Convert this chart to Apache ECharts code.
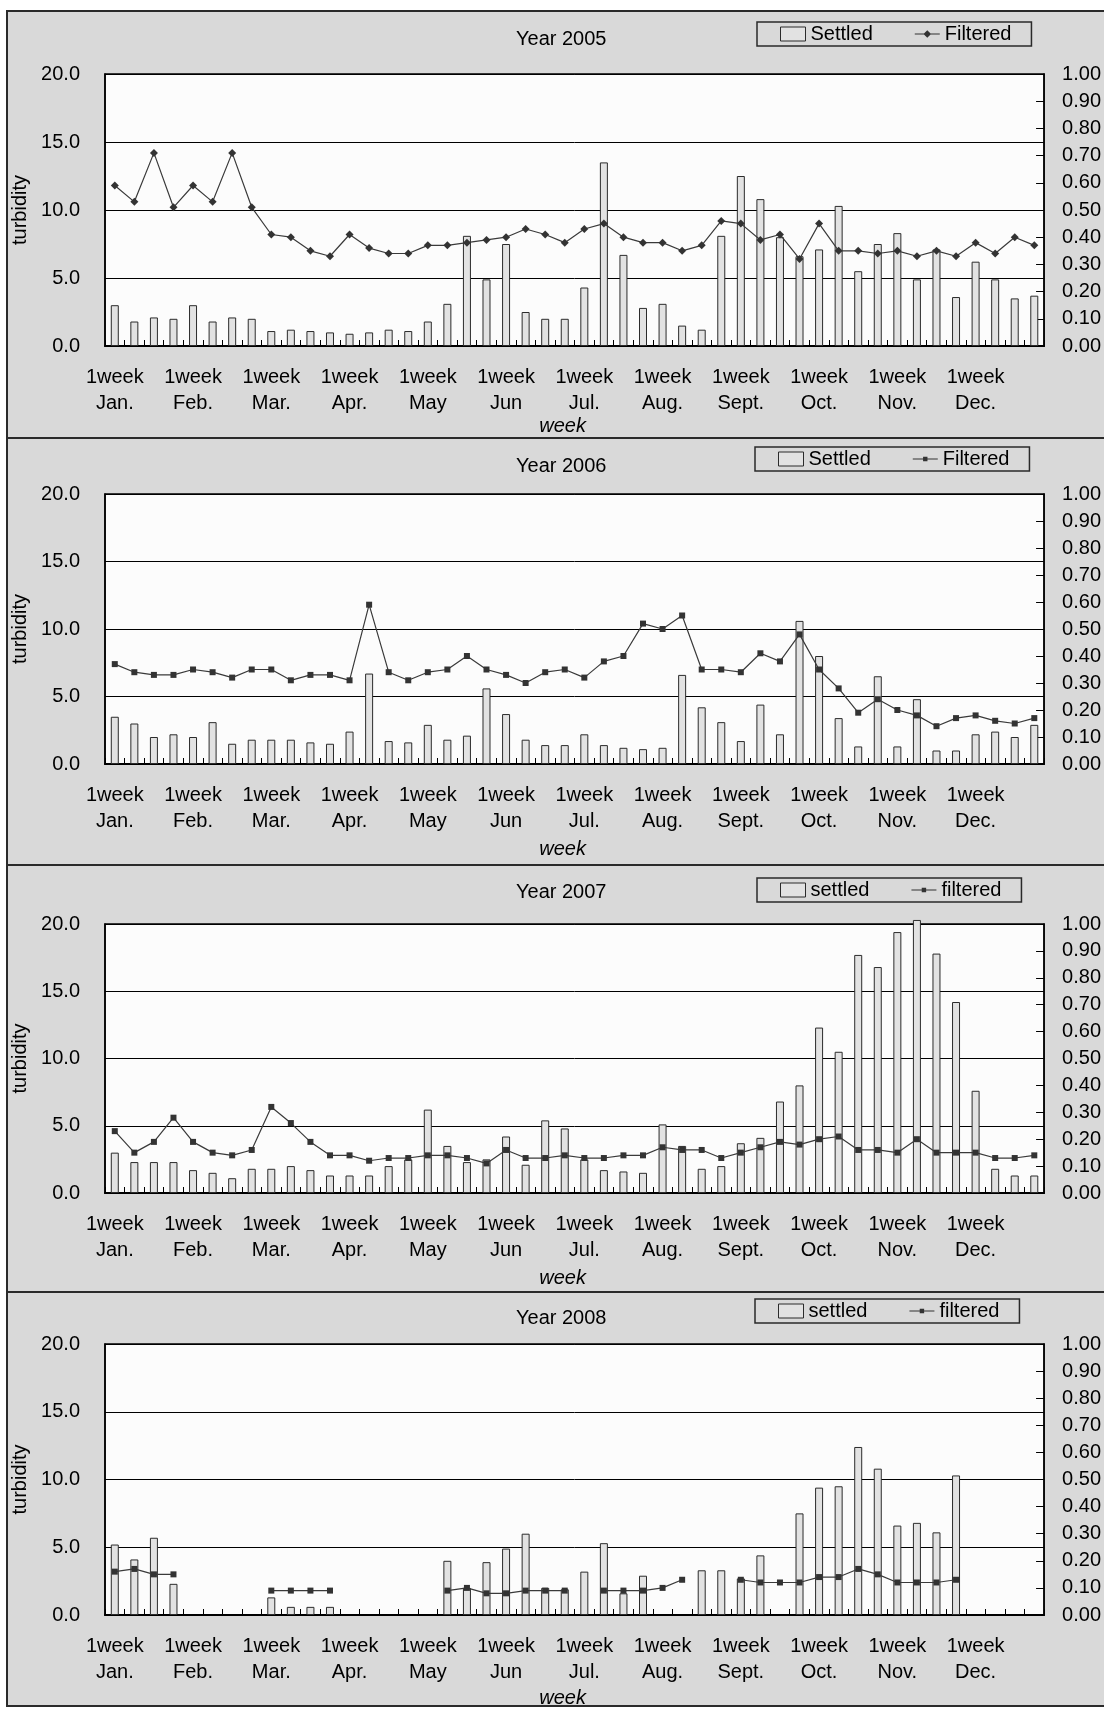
<!DOCTYPE html>
<html><head><meta charset="utf-8">
<script src="https://cdn.jsdelivr.net/npm/echarts@6/dist/echarts.min.js"></script>
<style>html,body{margin:0;padding:0;background:#fff}#c{width:1104px;height:1711px}</style>
</head><body><div id="c"></div>
<script>
// ---- tick labels / categories ----
const months = ['Jan.', 'Feb.', 'Mar.', 'Apr.', 'May', 'Jun', 'Jul.', 'Aug.', 'Sept.', 'Oct.', 'Nov.', 'Dec.'];
const weekNames = ['1week', '2week', '3week', '4week'];
const years = ['2005', '2006', '2007', '2008'];
const settledNames = ['Settled', 'Settled', 'settled', 'settled'];
const filteredNames = ['Filtered', 'Filtered', 'filtered', 'filtered'];
const leftMax = 20, leftInterval = 5;
const rightMax = 1, rightInterval = 0.1;

// ---- data (weekly, 48 weeks per year) ----
const settled2005 = [3.0, 1.8, 2.1, 2.0, 3.0, 1.8, 2.1, 2.0, 1.1, 1.2, 1.1, 1.0, 0.9, 1.0, 1.2, 1.1, 1.8, 3.1, 8.1, 4.9, 7.5, 2.5, 2.0, 2.0, 4.3, 13.5, 6.7, 2.8, 3.1, 1.5, 1.2, 8.1, 12.5, 10.8, 8.0, 6.6, 7.1, 10.3, 5.5, 7.5, 8.3, 4.9, 7.1, 3.6, 6.2, 4.9, 3.5, 3.7];
const filtered2005 = [0.59, 0.53, 0.71, 0.51, 0.59, 0.53, 0.71, 0.51, 0.41, 0.40, 0.35, 0.33, 0.41, 0.36, 0.34, 0.34, 0.37, 0.37, 0.38, 0.39, 0.40, 0.43, 0.41, 0.38, 0.43, 0.45, 0.40, 0.38, 0.38, 0.35, 0.37, 0.46, 0.45, 0.39, 0.41, 0.32, 0.45, 0.35, 0.35, 0.34, 0.35, 0.33, 0.35, 0.33, 0.38, 0.34, 0.40, 0.37];

const settled2006 = [3.5, 3.0, 2.0, 2.2, 2.0, 3.1, 1.5, 1.8, 1.8, 1.8, 1.6, 1.5, 2.4, 6.7, 1.7, 1.6, 2.9, 1.8, 2.1, 5.6, 3.7, 1.8, 1.4, 1.4, 2.2, 1.4, 1.2, 1.1, 1.2, 6.6, 4.2, 3.1, 1.7, 4.4, 2.2, 10.6, 8.0, 3.4, 1.3, 6.5, 1.3, 4.8, 1.0, 1.0, 2.2, 2.4, 2.0, 2.9];
const filtered2006 = [0.37, 0.34, 0.33, 0.33, 0.35, 0.34, 0.32, 0.35, 0.35, 0.31, 0.33, 0.33, 0.31, 0.59, 0.34, 0.31, 0.34, 0.35, 0.40, 0.35, 0.33, 0.30, 0.34, 0.35, 0.32, 0.38, 0.40, 0.52, 0.50, 0.55, 0.35, 0.35, 0.34, 0.41, 0.38, 0.48, 0.35, 0.28, 0.19, 0.24, 0.20, 0.18, 0.14, 0.17, 0.18, 0.16, 0.15, 0.17];

const settled2007 = [3.0, 2.3, 2.3, 2.3, 1.7, 1.5, 1.1, 1.8, 1.8, 2.0, 1.7, 1.3, 1.3, 1.3, 2.0, 2.5, 6.2, 3.5, 2.3, 2.5, 4.2, 2.1, 5.4, 4.8, 2.5, 1.7, 1.6, 1.5, 5.1, 3.5, 1.8, 2.0, 3.7, 4.1, 6.8, 8.0, 12.3, 10.5, 17.7, 16.8, 19.4, 20.3, 17.8, 14.2, 7.6, 1.8, 1.3, 1.3];
const filtered2007 = [0.23, 0.15, 0.19, 0.28, 0.19, 0.15, 0.14, 0.16, 0.32, 0.26, 0.19, 0.14, 0.14, 0.12, 0.13, 0.13, 0.14, 0.14, 0.13, 0.11, 0.16, 0.13, 0.13, 0.14, 0.13, 0.13, 0.14, 0.14, 0.17, 0.16, 0.16, 0.13, 0.15, 0.17, 0.19, 0.18, 0.20, 0.21, 0.16, 0.16, 0.15, 0.20, 0.15, 0.15, 0.15, 0.13, 0.13, 0.14];

const settled2008 = [5.2, 4.1, 5.7, 2.3, null, null, null, null, 1.3, 0.6, 0.6, 0.6, null, null, null, null, null, 4.0, 2.0, 3.9, 4.9, 6.0, 2.0, 1.9, 3.2, 5.3, 1.6, 2.9, null, null, 3.3, 3.3, 2.7, 4.4, null, 7.5, 9.4, 9.5, 12.4, 10.8, 6.6, 6.8, 6.1, 10.3, null, null, null, null];
const filtered2008 = [0.16, 0.17, 0.15, 0.15, null, null, null, null, 0.09, 0.09, 0.09, 0.09, null, null, null, null, null, 0.09, 0.10, 0.08, 0.08, 0.09, 0.09, 0.09, null, 0.09, 0.09, 0.09, 0.10, 0.13, null, null, 0.13, 0.12, 0.12, 0.12, 0.14, 0.14, 0.17, 0.15, 0.12, 0.12, 0.12, 0.13, null, null, null, null];

const settledAll = [settled2005, settled2006, settled2007, settled2008];
const filteredAll = [filtered2005, filtered2006, filtered2007, filtered2008];

// ---- build ----
const categories = [];
months.forEach(m => weekNames.forEach(w => categories.push(w + '\n' + m)));

const FONT = '"Liberation Sans", Arial, sans-serif';
const panels = [[11, 427], [438, 427], [865, 427], [1292, 414]];
const plotTop = [74, 494, 924, 1344];
const plotH = [272, 270, 269, 271];
const titleTop = [29, 456, 882, 1308];
const legendPos = [[757, 22], [755, 447], [757, 878], [755, 1299]];
const xNameGap = [62, 75, 75, 73];
const symbols = ['diamond', 'rect', 'rect', 'rect'];
const symSizes = [8, 6, 6, 6];
const legendLineIcons = [
  'path://M0,0M0,6.4h25v1.2h-25zM12.5,3.2l3.8,3.8l-3.8,3.8l-3.8,-3.8zM25,14',
  'path://M0,0M0,6.4h25v1.2h-25zM10.3,4.8h4.4v4.4h-4.4zM25,14',
  'path://M0,0M0,6.4h25v1.2h-25zM10.3,4.8h4.4v4.4h-4.4zM25,14',
  'path://M0,0M0,6.4h25v1.2h-25zM10.3,4.8h4.4v4.4h-4.4zM25,14'
];

const grid = [], xAxis = [], yAxis = [], series = [], title = [], legend = [], graphic = [];
for (let i = 0; i < 4; i++) {
  graphic.push({type: 'rect', z: -100, silent: true,
    shape: {x: 7, y: panels[i][0], width: 1120, height: panels[i][1]},
    style: {fill: '#d9d9d9', stroke: '#2a2a2a', lineWidth: 2}});
  grid.push({left: 105, right: 52, top: plotTop[i], height: plotH[i], show: true,
    backgroundColor: '#fcfcfc', borderColor: '#000', borderWidth: 1.5});
  xAxis.push({gridIndex: i, type: 'category', data: categories, boundaryGap: true,
    axisLine: {lineStyle: {color: '#000', width: 2}},
    axisTick: {show: true, inside: true, length: 6, interval: 0, lineStyle: {color: '#000'}},
    axisLabel: {interval: 3, fontSize: 20, color: '#000', lineHeight: 26, margin: 18, fontFamily: FONT},
    splitLine: {show: false},
    name: 'week', nameLocation: 'middle', nameGap: xNameGap[i],
    nameTextStyle: {fontStyle: 'italic', fontSize: 20, color: '#000', fontFamily: FONT, padding: [0, 24, 0, 0]}});
  yAxis.push({gridIndex: i, type: 'value', min: 0, max: leftMax, interval: leftInterval, position: 'left',
    axisLine: {show: true, lineStyle: {color: '#000', width: 1.5}},
    axisTick: {show: false},
    axisLabel: {formatter: v => v.toFixed(1), fontSize: 20, color: '#000', margin: 25, fontFamily: FONT},
    splitLine: {show: true, lineStyle: {color: '#000', width: 1}},
    name: 'turbidity', nameLocation: 'middle', nameGap: 67, nameRotate: 90,
    nameTextStyle: {fontSize: 20, color: '#000', fontFamily: FONT}});
  yAxis.push({gridIndex: i, type: 'value', min: 0, max: rightMax, interval: rightInterval, position: 'right',
    axisLine: {show: true, lineStyle: {color: '#000', width: 1.5}},
    axisTick: {show: true, inside: true, length: 8, lineStyle: {color: '#000'}},
    axisLabel: {formatter: v => v.toFixed(2), fontSize: 20, color: '#000', margin: 18, fontFamily: FONT},
    splitLine: {show: false}});
  const sName = settledNames[i] + ' ' + years[i];
  const fName = filteredNames[i] + ' ' + years[i];
  series.push({type: 'bar', name: sName, xAxisIndex: i, yAxisIndex: 2 * i, data: settledAll[i],
    barWidth: 8, clip: false,
    itemStyle: {color: '#e2e2e2', borderColor: '#2b2b2b', borderWidth: 1}});
  series.push({type: 'line', name: fName, xAxisIndex: i, yAxisIndex: 2 * i + 1, data: filteredAll[i],
    symbol: symbols[i], symbolSize: symSizes[i], connectNulls: false, z: 5,
    lineStyle: {color: '#3a3a3a', width: 1.2}, itemStyle: {color: '#333'}});
  title.push({text: 'Year ' + years[i], left: 516, top: titleTop[i], padding: 0,
    textStyle: {fontSize: 20, fontWeight: 'normal', color: '#000', fontFamily: FONT}});
  legend.push({data: [{name: sName, icon: 'rect', itemStyle: {color: '#e2e2e2', borderColor: '#2b2b2b', borderWidth: 1}},
                      {name: fName, icon: legendLineIcons[i], itemStyle: {color: '#333', borderWidth: 0}}],
    left: legendPos[i][0], top: legendPos[i][1], orient: 'horizontal',
    padding: [2, 20, 2, 23], itemGap: 42, itemWidth: 25, itemHeight: 14,
    borderColor: '#2a2a2a', borderWidth: 1.5, backgroundColor: 'transparent',
    formatter: n => n.split(' ')[0],
    textStyle: {fontSize: 20, color: '#000', fontFamily: FONT}});
}

const chart = echarts.init(document.getElementById('c'), null, {renderer: 'canvas'});
chart.setOption({
  animation: false,
  backgroundColor: '#ffffff',
  textStyle: {fontFamily: FONT},
  graphic: graphic,
  title: title, legend: legend, grid: grid, xAxis: xAxis, yAxis: yAxis, series: series
});
</script></body></html>
